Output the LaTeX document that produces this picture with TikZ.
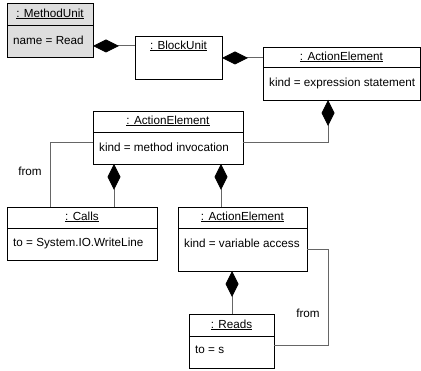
\documentclass[tikz,border=0pt]{standalone}
\usepackage{fontspec}
\setmainfont{Liberation Sans}
\usetikzlibrary{arrows.meta}
\usetikzlibrary{calc}

\begin{document}
\begin{tikzpicture}[x=1pt, y=-1pt,
	box/.style={draw=black, line width=0.8pt, inner sep=0pt, outer sep=0pt, anchor=north west},
	txt/.style={font=\fontsize{11.7}{14}\selectfont, inner sep=0pt},
	conn/.style={draw=black!60, line width=1pt},
	comp/.style={conn, -{Diamond[black, length=26pt, width=13pt]}}]

	\useasboundingbox (0,0) rectangle (421,371);

	% object boxes
	\node[box, fill=black!13, minimum width=86pt, minimum height=54pt] (mu) at (7,3) {};
	\node[box, minimum width=87pt, minimum height=43pt] (blk) at (135,36) {};
	\node[box, minimum width=157pt, minimum height=53pt] (ae1) at (263,47) {};
	\node[box, minimum width=150pt, minimum height=53pt] (ae2) at (93,111) {};
	\node[box, minimum width=150pt, minimum height=53pt] (calls) at (7,207) {};
	\node[box, minimum width=129pt, minimum height=64pt] (ae3) at (178,207) {};
	\node[box, minimum width=85pt, minimum height=54pt] (reads) at (189,314) {};

	% compartment lines
	\draw[line width=0.8pt] ($(mu.north west)+(0,22)$) -- ($(mu.north east)+(0,22)$);
	\draw[line width=0.8pt] ($(ae1.north west)+(0,20)$) -- ($(ae1.north east)+(0,20)$);
	\draw[line width=0.8pt] ($(ae2.north west)+(0,21)$) -- ($(ae2.north east)+(0,21)$);
	\draw[line width=0.8pt] ($(calls.north west)+(0,21)$) -- ($(calls.north east)+(0,21)$);
	\draw[line width=0.8pt] ($(ae3.north west)+(0,21)$) -- ($(ae3.north east)+(0,21)$);
	\draw[line width=0.8pt] ($(reads.north west)+(0,22)$) -- ($(reads.north east)+(0,22)$);

	% headers
	\node[txt] (muH) at ($(mu.north)+(0,11)$) {\underline{: MethodUnit}};
	\node[txt] (blkH) at ($(blk.north)+(0,10)$) {\underline{: BlockUnit}};
	\node[txt] (ae1H) at ($(ae1.north)+(0,10)$) {\underline{: ActionElement}};
	\node[txt] (ae2H) at ($(ae2.north)+(0,10)$) {\underline{: ActionElement}};
	\node[txt] (callsH) at ($(calls.north)+(0,10)$) {\underline{: Calls}};
	\node[txt] (ae3H) at ($(ae3.north)+(0,10)$) {\underline{: ActionElement}};
	\node[txt] (readsH) at ($(reads.north)+(0,11)$) {\underline{: Reads}};

	% attributes
	\node[txt, anchor=west] (muA) at ($(mu.north west)+(6,37)$) {name = Read};
	\node[txt, anchor=west] (ae1A) at ($(ae1.north west)+(6,36)$) {kind = expression statement};
	\node[txt, anchor=west] (ae2A) at ($(ae2.north west)+(6,36)$) {kind = method invocation};
	\node[txt, anchor=west] (callsA) at ($(calls.north west)+(6,36)$) {to = System.IO.WriteLine};
	\node[txt, anchor=west] (ae3A) at ($(ae3.north west)+(6,36)$) {kind = variable access};
	\node[txt, anchor=west] (readsA) at ($(reads.north west)+(6,36)$) {to = s};

	% composition links
	\coordinate (c1) at ($(blk.north west)+(0,10)$);
	\draw[comp] (c1) -- (c1 -| mu.east);
	\coordinate (c2) at ($(ae1.north west)+(0,11)$);
	\draw[comp] (c2) -- (c2 -| blk.east);
	\coordinate (c3) at ($(ae2.north east)+(0,32)$);
	\coordinate (c3b) at ($(ae1.south west)+(65,0)$);
	\draw[comp] (c3) -| (c3b);
	\coordinate (c4) at ($(ae2.south west)+(21,0)$);
	\draw[comp] (c4 |- calls.north) -- (c4);
	\coordinate (c5) at ($(ae2.south west)+(128,0)$);
	\draw[comp] (c5 |- ae3.north) -- (c5);
	\coordinate (c6) at ($(ae3.south west)+(54,0)$);
	\draw[comp] (c6 |- reads.north) -- (c6);

	% "from" links
	\coordinate (f1) at ($(ae2.north west)+(0,32)$);
	\coordinate (f1b) at ($(calls.north west)+(43,0)$);
	\draw[conn] (f1) -| (f1b);
	\node[txt] (from1) at (30,171) {from};
	\coordinate (f2) at ($(ae3.north east)+(0,43)$);
	\coordinate (f2b) at ($(reads.north east)+(0,32)$);
	\draw[conn] (f2) -- ++(21,0) |- (f2b);
	\node[txt] (from2) at (308,313) {from};

\end{tikzpicture}
\end{document}
